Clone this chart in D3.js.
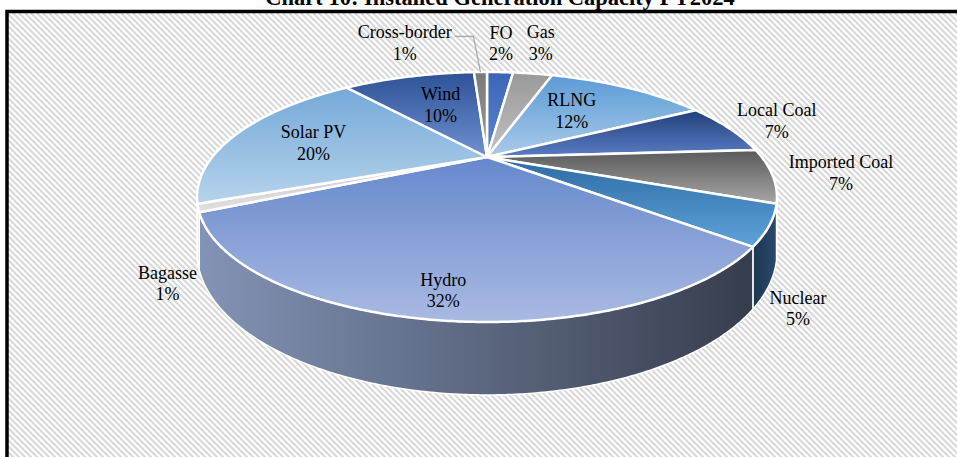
<!DOCTYPE html>
<html>
<head>
<meta charset="utf-8">
<script src="https://cdn.jsdelivr.net/npm/d3@7"></script>
<style>
  html, body { margin: 0; padding: 0; background: #fff; }
  svg { display: block; }
  text { font-family: "Times New Roman", "Liberation Serif", serif; fill: #000; }
</style>
</head>
<body>
<svg id="chart" width="957" height="457"></svg>
<script>
const title = "Chart 10: Installed Generation Capacity FY2024";
const sources = ["FO", "Gas", "RLNG", "Local Coal", "Imported Coal", "Nuclear", "Hydro", "Bagasse", "Solar PV", "Wind", "Cross-border"];
const shares = [2, 3, 12, 7, 7, 5, 32, 1, 20, 10, 1];

// top face gradient, far edge -> near edge
const topFrom = ["#3b66b6", "#999999", "#5b9bd5", "#22407a", "#5a5a5a", "#2c6aa2", "#6688cc", "#c9c9c9", "#74a9d8", "#2d5296", "#7a7a7a"];
const topTo   = ["#5a86d2", "#c2c2c2", "#a9cbe9", "#5a7cc4", "#a6a6a6", "#5ea3da", "#a9bae2", "#e0e0e0", "#b6d3eb", "#6f90d2", "#9a9a9a"];
// side wall gradient, left -> right
const wallFrom = ["#34589a", "#8a8a8a", "#4a7fb0", "#1e3866", "#6a6a6a", "#1e3654", "#8393b5", "#bdbdbd", "#8db3d8", "#2a4a86", "#707070"];
const wallTo   = ["#34589a", "#8a8a8a", "#4a7fb0", "#1e3866", "#6a6a6a", "#294a6b", "#363d4d", "#bdbdbd", "#7fa6cc", "#2a4a86", "#707070"];

// label placement (fraction of radius, nudge in degrees from slice middle)
const labelR = [1.5, 1.53, 0.59, 1.23, 1.24, 1.23, 0.87, 1.19, 0.67, 0.58, 1.57];
const labelShift = [-0.7, -1.7, -2.6, -0.8, -2.7, 19.4, 0.4, -20.7, -3.4, 1.6, -14.6];
const withLeader = ["Cross-border"];

const W = 957, H = 457;
const svg = d3.select("#chart");
const defs = svg.append("defs");

// background hatch
const pat = defs.append("pattern")
  .attr("id", "hatch")
  .attr("patternUnits", "userSpaceOnUse")
  .attr("width", 6).attr("height", 6);
pat.append("rect").attr("width", 6).attr("height", 6).attr("fill", "#fff");
pat.append("path")
  .attr("d", "M0,0L6,6M-3,3L3,9M3,-3L9,3")
  .attr("stroke", "#d9d9d9")
  .attr("stroke-width", 2.1);

svg.append("rect")
  .attr("x", 7).attr("y", 11.5)
  .attr("width", W + 10).attr("height", H + 10)
  .attr("fill", "url(#hatch)")
  .attr("stroke", "#000")
  .attr("stroke-width", 3.5);

svg.append("text")
  .attr("x", 500).attr("y", 5)
  .attr("text-anchor", "middle")
  .style("font-size", "22.5px")
  .style("font-weight", "bold")
  .text(title);

// perspective pie
const cx = 487, cy = 157, A = 274.7, B = 112.2, K = 0.32, T = 49.6;
function proj(a, r, depth) {
  const u = r * Math.sin(a), v = -r * Math.cos(a);
  const w = 1 - K * v;
  return [cx + A * u / w, cy + B * v / w + depth * T / w];
}
function arcPts(a0, a1, depth) {
  const n = Math.max(2, Math.ceil((a1 - a0) / (Math.PI / 360)));
  return d3.range(n + 1).map(i => proj(a0 + (a1 - a0) * i / n, 1, depth));
}
const line = d3.line();

const arcs = d3.pie().sort(null).startAngle(0).endAngle(2 * Math.PI)(shares);

arcs.forEach((d, i) => {
  const gt = defs.append("linearGradient").attr("id", "top" + i)
    .attr("x1", 0).attr("y1", 0).attr("x2", 0).attr("y2", 1);
  gt.append("stop").attr("offset", 0).attr("stop-color", topFrom[i]);
  gt.append("stop").attr("offset", 1).attr("stop-color", topTo[i]);
  const gw = defs.append("linearGradient").attr("id", "wall" + i)
    .attr("x1", 0).attr("y1", 0).attr("x2", 1).attr("y2", 0);
  gw.append("stop").attr("offset", 0).attr("stop-color", wallFrom[i]);
  gw.append("stop").attr("offset", 1).attr("stop-color", wallTo[i]);
});

// visible part of the rim
const aL = Math.acos(-K), aR = 2 * Math.PI - aL;

const walls = svg.append("g");
arcs.forEach((d, i) => {
  const s = Math.max(d.startAngle, aL), e = Math.min(d.endAngle, aR);
  if (s >= e) return;
  const pts = arcPts(s, e, 0).concat(arcPts(s, e, 1).reverse());
  walls.append("path")
    .attr("d", line(pts) + "Z")
    .attr("fill", `url(#wall${i})`)
    .attr("stroke", "#fff")
    .attr("stroke-width", 1.5)
    .attr("stroke-linejoin", "round");
});

const tops = svg.append("g");
arcs.forEach((d, i) => {
  const pts = [proj(0, 0, 0)].concat(arcPts(d.startAngle, d.endAngle, 0));
  tops.append("path")
    .attr("d", line(pts) + "Z")
    .attr("fill", `url(#top${i})`)
    .attr("stroke", "#fff")
    .attr("stroke-width", 2.5)
    .attr("stroke-linejoin", "round");
});

// labels
const fmt = d3.format(".0%");
const labels = svg.append("g").style("font-size", "18px");
arcs.forEach((d, i) => {
  const mid = (d.startAngle + d.endAngle) / 2;
  const p = proj(mid + labelShift[i] * Math.PI / 180, labelR[i], 0);
  const g = labels.append("g");
  const t1 = g.append("text")
    .attr("x", p[0]).attr("y", p[1] - 10.75)
    .attr("text-anchor", "middle")
    .attr("dominant-baseline", "central")
    .text(sources[i]);
  g.append("text")
    .attr("x", p[0]).attr("y", p[1] + 10.75)
    .attr("text-anchor", "middle")
    .attr("dominant-baseline", "central")
    .text(fmt(shares[i] / 100));
  if (withLeader.includes(sources[i])) {
    const bb = t1.node().getBBox();
    const end = proj(mid, 1, 0);
    const y0 = p[1] - 6.5;
    svg.append("path")
      .attr("d", line([[bb.x + bb.width + 3, y0], [end[0] - 7, y0], end]))
      .attr("fill", "none")
      .attr("stroke", "#a6a6a6")
      .attr("stroke-width", 1.2);
  }
});
</script>
</body>
</html>
